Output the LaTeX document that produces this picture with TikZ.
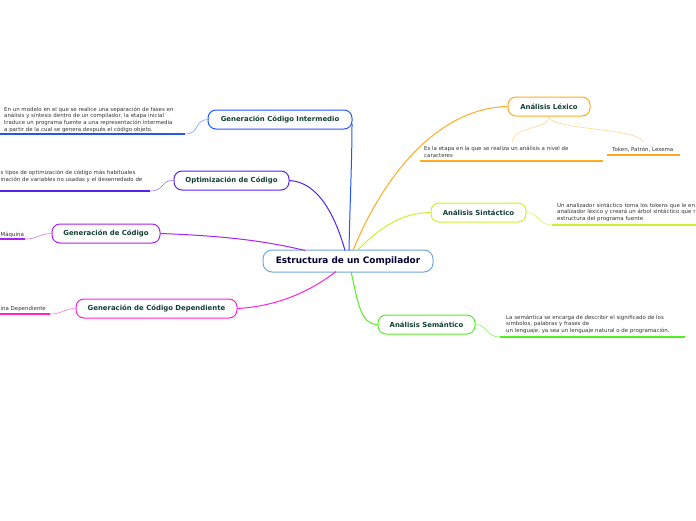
\documentclass[tikz,border=0pt]{standalone}
\usepackage{fontspec}
\setmainfont{DejaVu Sans}
\definecolor{brtext}{HTML}{123F33}
\definecolor{leaftext}{HTML}{333333}
\definecolor{cblue}{HTML}{6FA8DC}
\definecolor{cinter}{HTML}{2255FF}
\definecolor{copt}{HTML}{5522EE}
\definecolor{cgen}{HTML}{AA22EE}
\definecolor{cdep}{HTML}{FF22DD}
\definecolor{clex}{HTML}{FFAA22}
\definecolor{clexl}{HTML}{FFD590}
\definecolor{csin}{HTML}{CCEE33}
\definecolor{csem}{HTML}{55EE22}
\begin{document}
\begin{tikzpicture}[x=1pt,y=-1pt,
 branch/.style={draw, rounded corners=8pt, line width=1pt, fill=white, minimum height=19pt, inner sep=0pt, font=\bfseries\fontsize{6.9}{8}\selectfont, text=brtext},
 leaf/.style={anchor=north west, inner sep=0pt, align=left, font=\fontsize{5.45}{6.7}\selectfont, text=leaftext},
 conn/.style={line width=1pt},
 uline/.style={line width=1.5pt},
 lconn/.style={line width=0.6pt}]
\useasboundingbox (0,0) rectangle (696,520);
\clip (0,0) rectangle (696,520);
% center
\node[draw=cblue, rounded corners=9pt, line width=1pt, fill=white, minimum width=170pt, minimum height=22pt, inner sep=0pt, font=\bfseries\fontsize{8.9}{10}\selectfont, text=black!80!blue] (c) at (348,261) {Estructura de un Compilador};
% branches
\node[branch, draw=cinter, minimum width=144pt] (inter) at (280,119.5) {Generación Código Intermedio};
\node[branch, draw=copt, minimum width=115pt] (opt) at (231.5,180.5) {Optimización de Código};
\node[branch, draw=cgen, minimum width=108pt] (gen) at (106,233.5) {Generación de Código};
\node[branch, draw=cdep, minimum width=161pt] (dep) at (156.5,308.5) {Generación de Código Dependiente};
\node[branch, draw=clex, minimum width=82pt] (lex) at (549,106.5) {Análisis Léxico};
\node[branch, draw=csin, minimum width=95pt] (sin) at (478.5,212.5) {Análisis Sintáctico};
\node[branch, draw=csem, minimum width=97pt] (sem) at (426.5,324.5) {Análisis Semántico};
% main connectors
\coordinate (cinterA) at (349,250.5);
\coordinate (coptA) at (345,250.5);
\coordinate (cgenA) at (305,250.5);
\coordinate (cdepA) at (336,271.5);
\coordinate (clexA) at (353,250.5);
\coordinate (csinA) at (357,250.5);
\coordinate (csemA) at (351,271.5);
\draw[conn, cinter] (cinterA) .. controls (350,200) and (352,160) .. (352,124);
\draw[conn, copt] (opt.east) .. controls (318,182) and (335,215) .. (coptA);
\draw[conn, cgen] (gen.east) .. controls (230,236) and (270,242) .. (cgenA);
\draw[conn, cdep] (dep.east) .. controls (280,306) and (312,290) .. (cdepA);
\draw[conn, clex] (clexA) .. controls (385,172) and (440,108) .. (lex.west);
\draw[conn, csin] (csinA) .. controls (380,228) and (400,213) .. (sin.west);
\draw[conn, csem] (csemA) .. controls (358,302) and (360,324) .. (sem.west);
% leaves: Intermedio
\node[leaf] (l1) at (4,106.5) {En un modelo en el que se realice una separación de fases en\\análisis y síntesis dentro de un compilador, la etapa inicial\\traduce un programa fuente a una representación intermedia\\a partir de la cual se genera después el código objeto.};
\coordinate (l1a) at (0,134); \coordinate (l1b) at (185,134);
\draw[uline, cinter] (l1a) -- (l1b);
\draw[lconn, cinter!60] (l1b) .. controls (200,134) and (194,120) .. (inter.west);
% Optimizacion
\node[leaf] (l2) at (0.5,170) {s tipos de optimización de código más habituales\\inación de variables no usadas y el desenredado de};
\coordinate (l2a) at (0,191); \coordinate (l2b) at (150,191);
\draw[uline, copt] (l2a) -- (l2b);
\draw[lconn, copt!60] (l2b) .. controls (165,191) and (160,180) .. (opt.west);
% Gen codigo
\node[leaf] (l3) at (0.5,231.5) {Máquina};
\coordinate (l3a) at (0,239); \coordinate (l3b) at (25,239);
\draw[uline, cgen] (l3a) -- (l3b);
\draw[lconn, cgen!60] (l3b) .. controls (38,239) and (38,234) .. (gen.west);
% Dependiente
\node[leaf] (l4) at (0.5,306.5) {ina Dependiente};
\coordinate (l4a) at (0,314); \coordinate (l4b) at (50,314);
\draw[uline, cdep] (l4a) -- (l4b);
\draw[lconn, cdep!60] (l4b) .. controls (63,314) and (62,309) .. (dep.west);
% Lexico
\node[leaf] (l5) at (424,146) {Es la etapa en la que se realiza un análisis a nivel de\\caracteres};
\coordinate (l5a) at (420,161); \coordinate (l5b) at (603,161);
\coordinate (l5t) at (512,142);
\draw[uline, clex] (l5a) -- (l5b);
\node[leaf] (l6) at (612,146.5) {Token, Patrón, Lexema};
\coordinate (l6a) at (607,155); \coordinate (l6b) at (680,155);
\coordinate (l6t) at (643,142);
\draw[uline, clex] (l6a) -- (l6b);
\draw[lconn, clexl] (lex.south) .. controls (549,130) and (515,125) .. (l5t);
\draw[lconn, clexl] (lex.south) .. controls (549,130) and (640,128) .. (l6t);
% Sintactico
\node[leaf] (l7) at (557,202.5) {Un analizador sintáctico toma los tokens que le en\\analizador léxico y creará un árbol sintáctico que r\\estructura del programa fuente};
\coordinate (l7a) at (552,225); \coordinate (l7b) at (700,225);
\draw[uline, csin] (l7a) -- (l7b);
\draw[lconn, csin!70] (sin.east) .. controls (540,213) and (538,225) .. (l7a);
% Semantico
\node[leaf] (l8) at (506,314.5) {La semántica se encarga de describir el significado de los\\símbolos, palabras y frases de\\un lenguaje, ya sea un lenguaje natural o de programación.};
\coordinate (l8a) at (500,337); \coordinate (l8b) at (685,337);
\draw[uline, csem] (l8a) -- (l8b);
\draw[lconn, csem!70] (sem.east) .. controls (488,325) and (486,337) .. (l8a);
\end{tikzpicture}
\end{document}
